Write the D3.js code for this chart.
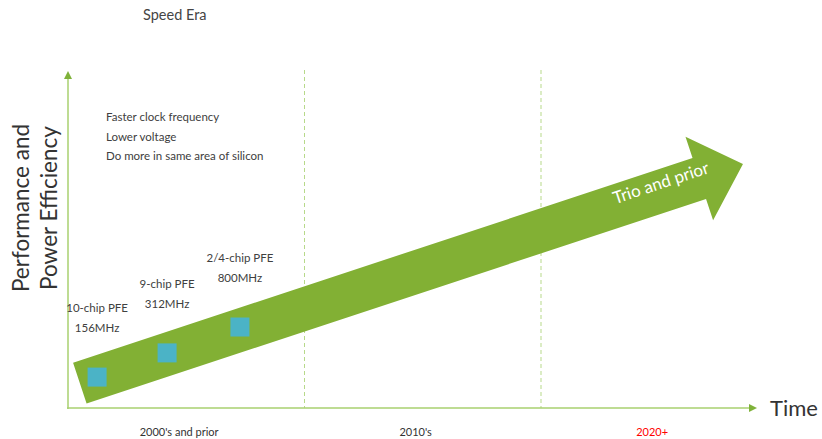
<!DOCTYPE html>
<html lang="en">
<head>
    <meta charset="UTF-8">
    <title>Speed Era</title>
    <style>
        body { margin: 0; background: #fff; }
        text { font-family: Lato, "Open Sans", sans-serif; }
        .note { fill: #404040; font-size: 11.5px; }
        .era { font-size: 11px; }
    </style>
</head>
<body>
<script src="https://d3js.org/d3.v7.min.js"></script>
<script>
    const width = 822;
    const height = 439;

    // eras along the time axis
    const eras = ["2000's and prior", "2010's", "2020+"];
    const eraColors = ['#333', '#333', '#ff0000'];

    // PFE generations: position in era units, performance (0-100)
    const chips = ['10-chip PFE', '9-chip PFE', '2/4-chip PFE'];
    const clocks = ['156MHz', '312MHz', '800MHz'];
    const chipX = [0.123, 0.419, 0.727];
    const chipY = [9.2, 16.4, 24.1];

    // trend arrow start / end
    const trendX = [0.05, 2.854];
    const trendY = [7.4, 72.6];

    const notes = ['Faster clock frequency', 'Lower voltage', 'Do more in same area of silicon'];

    const svg = d3.select('body').append('svg').attr('width', width).attr('height', height);

    const x = d3.scaleLinear().domain([0, 3]).range([68, 777.5]);
    const y = d3.scaleLinear().domain([0, 100]).range([408, 72]);

    const axisColor = '#a9d06f';

    // era separators
    svg.selectAll('.sep').data([1, 2]).enter().append('line')
        .attr('x1', d => x(d)).attr('x2', d => x(d))
        .attr('y1', 70).attr('y2', 408)
        .attr('stroke', '#b7d98a').attr('stroke-width', 1)
        .attr('stroke-dasharray', '4,3');

    // axes
    svg.append('line').attr('x1', 68).attr('x2', 68).attr('y1', 409).attr('y2', 78)
        .attr('stroke', axisColor).attr('stroke-width', 1.5);
    svg.append('path').attr('d', 'M64,79 L68,71 L72,79 Z').attr('fill', '#7fb23a');
    svg.append('line').attr('x1', 67).attr('x2', 750).attr('y1', 408).attr('y2', 408)
        .attr('stroke', axisColor).attr('stroke-width', 1.5);
    svg.append('path').attr('d', 'M749,404 L757,408 L749,412 Z').attr('fill', '#7fb23a');

    svg.append('text').attr('x', 770).attr('y', 416).attr('fill', '#333')
        .attr('font-size', 22).text('Time');

    // era labels
    svg.selectAll('.era').data(eras).enter().append('text')
        .attr('class', 'era')
        .attr('x', (d, i) => x(i + 0.47)).attr('y', 436)
        .attr('text-anchor', 'middle')
        .attr('fill', (d, i) => eraColors[i])
        .text(d => d);

    // y title
    const yt = svg.append('text').attr('transform', 'translate(0,208) rotate(-90)')
        .attr('text-anchor', 'middle').attr('fill', '#333').attr('font-size', 22.5);
    yt.append('tspan').attr('x', 0).attr('y', 29).text('Performance and');
    yt.append('tspan').attr('x', 0).attr('y', 57).text('Power Efficiency');

    svg.append('text').attr('x', 143).attr('y', 20).attr('fill', '#444')
        .attr('font-size', 14.5).text('Speed Era');

    svg.selectAll('.note').data(notes).enter().append('text')
        .attr('class', 'note').attr('x', 106).attr('y', (d, i) => 121 + i * 19.5)
        .text(d => d);

    // trend arrow
    const x0 = x(trendX[0]), y0 = y(trendY[0]);
    const x1 = x(trendX[1]), y1 = y(trendY[1]);
    const len = Math.hypot(x1 - x0, y1 - y0);
    const ang = Math.atan2(y1 - y0, x1 - x0) * 180 / Math.PI;
    const bw = 21.5, hw = 44, hl = 46;
    const arrow = svg.append('g').attr('transform', `translate(${x0},${y0}) rotate(${ang})`);
    arrow.append('path')
        .attr('d', `M0,${-bw} L${len - hl},${-bw} L${len - hl},${-hw} L${len},0 L${len - hl},${hw} L${len - hl},${bw} L0,${bw} Z`)
        .attr('fill', '#82b034');
    arrow.append('text').attr('x', len - hl + 12).attr('y', -2)
        .attr('text-anchor', 'end').attr('fill', '#fff').attr('font-size', 17)
        .text('Trio and prior');

    // PFE squares and labels
    svg.selectAll('.chip').data(chips).enter().append('rect')
        .attr('x', (d, i) => x(chipX[i]) - 9.5).attr('y', (d, i) => y(chipY[i]) - 9.5)
        .attr('width', 19).attr('height', 19).attr('fill', '#4bb3c6');

    svg.selectAll('.chipname').data(chips).enter().append('text')
        .attr('class', 'note').attr('text-anchor', 'middle')
        .attr('x', (d, i) => x(chipX[i])).attr('y', (d, i) => y(chipY[i]) - 65)
        .text(d => d);
    svg.selectAll('.clock').data(clocks).enter().append('text')
        .attr('class', 'note').attr('text-anchor', 'middle')
        .attr('x', (d, i) => x(chipX[i])).attr('y', (d, i) => y(chipY[i]) - 45)
        .text(d => d);
</script>
</body>
</html>
